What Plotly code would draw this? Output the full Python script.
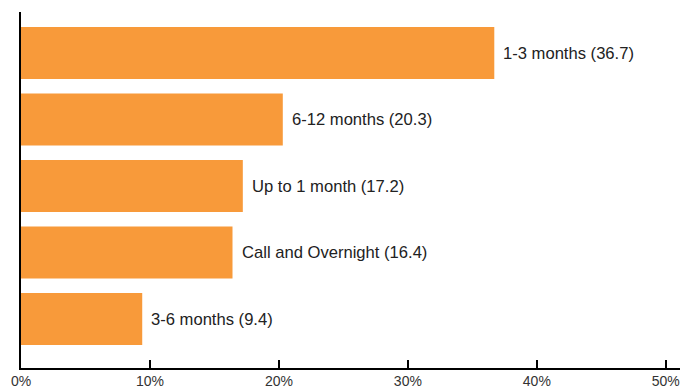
import plotly.graph_objects as go

categories = ["1-3 months", "6-12 months", "Up to 1 month", "Call and Overnight", "3-6 months"]
values = [36.7, 20.3, 17.2, 16.4, 9.4]
tick_vals = [0, 10, 20, 30, 40, 50]
tick_text = ["0%", "10%", "20%", "30%", "40%", "50%"]

n = len(categories)
ypos = [n - 1 - i for i in range(n)]

fig = go.Figure()
fig.add_trace(go.Bar(
    x=values, y=ypos, orientation="h",
    marker=dict(color="#F89A3A", line=dict(width=0)),
    width=0.78, hoverinfo="skip",
))
for c, v, y in zip(categories, values, ypos):
    fig.add_annotation(x=v, y=y, text=f"{c} ({v})", showarrow=False,
                       xanchor="left", yanchor="middle", xshift=7,
                       font=dict(family="Liberation Sans, Arial", size=16.6, color="#222"))

fig.update_layout(
    width=680, height=387,
    margin=dict(l=21, r=0, t=12, b=19),
    plot_bgcolor="white", paper_bgcolor="white",
    showlegend=False,
    xaxis=dict(range=[0, 51.1], tickvals=tick_vals, ticktext=tick_text,
               ticks="inside", ticklen=8, tickwidth=2, tickcolor="black",
               showline=True, linewidth=2, linecolor="black", showgrid=False,
               zeroline=False, automargin=False, ticklabelstandoff=-1,
               tickfont=dict(family="Liberation Sans, Arial", size=14, color="#333")),
    yaxis=dict(range=[-0.737, 4.617], showticklabels=False, ticks="",
               showline=True, linewidth=2, linecolor="black", showgrid=False,
               zeroline=False, automargin=False),
)
fig.write_html("out.html")
